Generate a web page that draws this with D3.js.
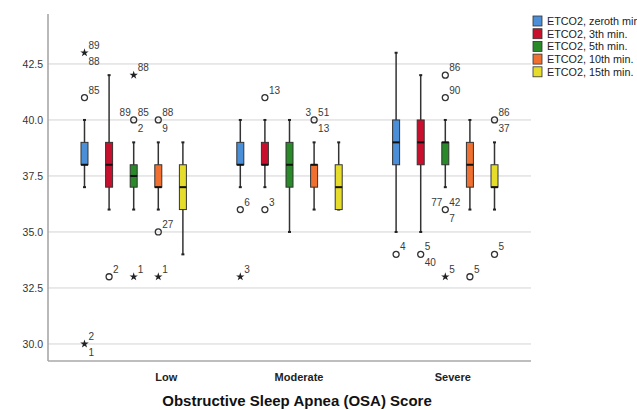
<!DOCTYPE html>
<html>
<head>
<meta charset="utf-8">
<script src="https://cdn.jsdelivr.net/npm/d3@7"></script>
<style>
  body { margin: 0; background: #fff; }
  svg { font-family: "Liberation Sans", Arial, sans-serif; }
</style>
</head>
<body>
<div id="chart"></div>
<script>
// categories on the x axis and the five measurement times
var categories = ['Low', 'Moderate', 'Severe'];
var series = ['ETCO2, zeroth min.', 'ETCO2, 3th min.', 'ETCO2, 5th min.', 'ETCO2, 10th min.', 'ETCO2, 15th min.'];
var colors = ['#4a8fd8', '#c8102e', '#2a8a2a', '#ef7030', '#e6dc2c'];
var yTicks = [30, 32.5, 35, 37.5, 40, 42.5];

// box stats per category, one row per series: [lower whisker, q1, median, q3, upper whisker]
var lowStats = [
  [37, 38, 38, 39, 40],
  [36, 37, 38, 39, 42],
  [36, 37, 37.5, 38, 39],
  [36, 37, 37, 38, 39],
  [34, 36, 37, 38, 39]
];
var moderateStats = [
  [37, 38, 38, 39, 40],
  [37, 38, 38, 39, 40],
  [35, 37, 38, 39, 40],
  [36, 37, 38, 38, 39],
  [36, 36, 37, 38, 39]
];
var severeStats = [
  [35, 38, 39, 40, 43],
  [35, 38, 39, 40, 42],
  [37, 38, 39, 39, 40],
  [36, 37, 38, 39, 40],
  [36, 37, 37, 38, 39]
];

// outliers: [category, series index, value, kind ('o' outlier / '*' extreme), case labels]
var outliers = [
  ['Low', 0, 41, 'o', ['85']],
  ['Low', 0, 43, '*', ['89', '88']],
  ['Low', 0, 30, '*', ['2', '1']],
  ['Low', 1, 33, 'o', ['2']],
  ['Low', 2, 40, 'o', ['89', '85', '2']],
  ['Low', 2, 42, '*', ['88']],
  ['Low', 2, 33, '*', ['1']],
  ['Low', 3, 40, 'o', ['88', '9']],
  ['Low', 3, 35, 'o', ['27']],
  ['Low', 3, 33, '*', ['1']],
  ['Moderate', 0, 36, 'o', ['6']],
  ['Moderate', 0, 33, '*', ['3']],
  ['Moderate', 1, 41, 'o', ['13']],
  ['Moderate', 1, 36, 'o', ['3']],
  ['Moderate', 3, 40, 'o', ['3', '51', '13']],
  ['Severe', 0, 34, 'o', ['4']],
  ['Severe', 1, 34, 'o', ['5', '40']],
  ['Severe', 2, 42, 'o', ['86']],
  ['Severe', 2, 41, 'o', ['90']],
  ['Severe', 2, 36, 'o', ['77', '42', '7']],
  ['Severe', 2, 33, '*', ['5']],
  ['Severe', 3, 33, 'o', ['5']],
  ['Severe', 4, 40, 'o', ['86', '37']],
  ['Severe', 4, 34, 'o', ['5']]
];

var statsByCat = { Low: lowStats, Moderate: moderateStats, Severe: severeStats };

var width = 637, height = 410;
var plot = { left: 48, right: 531, top: 14, bottom: 361 };

var svg = d3.select('#chart').append('svg')
  .attr('width', width)
  .attr('height', height);

var y = d3.scaleLinear()
  .domain([29.24, 44.73])
  .range([plot.bottom, plot.top]);

var x = d3.scalePoint()
  .domain(categories)
  .range([plot.left, plot.right])
  .padding(0.55);

var xOff = d3.scalePoint()
  .domain(d3.range(series.length))
  .range([-49.2, 49.2]);

var boxW = 7, capW = 3;

// gridlines
svg.append('g')
  .selectAll('line')
  .data(yTicks)
  .enter().append('line')
  .attr('x1', plot.left).attr('x2', plot.right)
  .attr('y1', function(d) { return y(d); })
  .attr('y2', function(d) { return y(d); })
  .attr('stroke', '#d4d4d4')
  .attr('stroke-width', 1);

// y axis
var yAxis = svg.append('g')
  .attr('transform', 'translate(' + plot.left + ',0)')
  .call(d3.axisLeft(y).tickValues(yTicks).tickFormat(d3.format('.1f')).tickSize(0).tickPadding(5));
yAxis.select('.domain').remove();
yAxis.selectAll('text').attr('font-size', 10.5).attr('fill', '#333');

svg.append('line')
  .attr('x1', plot.left).attr('x2', plot.left)
  .attr('y1', plot.top).attr('y2', plot.bottom)
  .attr('stroke', '#a8a8a8').attr('stroke-width', 1.6);
svg.append('line')
  .attr('x1', plot.left).attr('x2', plot.right)
  .attr('y1', plot.bottom).attr('y2', plot.bottom)
  .attr('stroke', '#a8a8a8').attr('stroke-width', 1.6);

// x axis labels (SPSS puts them a bit right of the cluster centres)
var labelShift = { Low: 32, Moderate: 9, Severe: 7 };
var xAxis = svg.append('g')
  .attr('transform', 'translate(0,' + plot.bottom + ')')
  .call(d3.axisBottom(x).tickSize(0).tickPadding(12));
xAxis.select('.domain').remove();
xAxis.selectAll('text')
  .attr('font-size', 11)
  .attr('font-weight', 'bold')
  .attr('fill', '#222')
  .attr('dx', function(d) { return labelShift[d]; });

svg.append('text')
  .attr('x', 297).attr('y', 406)
  .attr('text-anchor', 'middle')
  .attr('font-size', 15)
  .attr('font-weight', 'bold')
  .attr('fill', '#111')
  .text('Obstructive Sleep Apnea (OSA) Score');

// boxes
var boxes = [];
categories.forEach(function(c) {
  statsByCat[c].forEach(function(s, i) {
    boxes.push({ cat: c, i: i, s: s, cx: x(c) + xOff(i) });
  });
});

var bg = svg.append('g').selectAll('g.box')
  .data(boxes)
  .enter().append('g')
  .attr('class', 'box');

bg.append('line')
  .attr('x1', function(d) { return d.cx; })
  .attr('x2', function(d) { return d.cx; })
  .attr('y1', function(d) { return y(d.s[0]); })
  .attr('y2', function(d) { return y(d.s[4]); })
  .attr('stroke', '#333').attr('stroke-width', 1.5);

bg.selectAll('line.cap')
  .data(function(d) { return [{ cx: d.cx, v: d.s[0] }, { cx: d.cx, v: d.s[4] }]; })
  .enter().append('line')
  .attr('class', 'cap')
  .attr('x1', function(d) { return d.cx - capW / 2; })
  .attr('x2', function(d) { return d.cx + capW / 2; })
  .attr('y1', function(d) { return y(d.v); })
  .attr('y2', function(d) { return y(d.v); })
  .attr('stroke', '#222').attr('stroke-width', 2);

bg.append('rect')
  .attr('x', function(d) { return d.cx - boxW / 2; })
  .attr('width', boxW)
  .attr('y', function(d) { return y(d.s[3]); })
  .attr('height', function(d) { return y(d.s[1]) - y(d.s[3]); })
  .attr('fill', function(d) { return colors[d.i]; })
  .attr('stroke', '#333').attr('stroke-width', 1);

bg.append('line')
  .attr('x1', function(d) { return d.cx - boxW / 2; })
  .attr('x2', function(d) { return d.cx + boxW / 2; })
  .attr('y1', function(d) { return y(d.s[2]); })
  .attr('y2', function(d) { return y(d.s[2]); })
  .attr('stroke', '#111').attr('stroke-width', 2);

// outliers and case labels
var og = svg.append('g').selectAll('g.out')
  .data(outliers)
  .enter().append('g')
  .attr('class', 'out')
  .attr('transform', function(d) {
    return 'translate(' + (x(d[0]) + xOff(d[1])) + ',' + y(d[2]) + ')';
  });

og.filter(function(d) { return d[3] === 'o'; })
  .append('circle')
  .attr('r', 3)
  .attr('fill', 'none')
  .attr('stroke', '#333')
  .attr('stroke-width', 1.3);

og.filter(function(d) { return d[3] === '*'; })
  .append('path')
  .attr('d', d3.symbol().type(d3.symbolStar).size(22))
  .attr('fill', '#222');

// label placement the way SPSS stacks them around the point
function placements(n) {
  if (n === 1) return ['ur'];
  if (n === 2) return ['ur', 'lr'];
  return ['ul', 'ur', 'lr'];
}

og.selectAll('text')
  .data(function(d) {
    var p = placements(d[4].length);
    return d[4].map(function(t, k) { return { t: t, p: p[k] }; });
  })
  .enter().append('text')
  .attr('font-size', 10)
  .attr('fill', '#3a3a3a')
  .attr('text-anchor', function(d) { return d.p === 'ul' ? 'end' : 'start'; })
  .attr('x', function(d) { return d.p === 'ul' ? -3 : 4; })
  .attr('y', function(d) { return d.p === 'lr' ? 12 : -4; })
  .text(function(d) { return d.t; });

// legend
var lg = svg.append('g').selectAll('g.leg')
  .data(series)
  .enter().append('g')
  .attr('class', 'leg')
  .attr('transform', function(d, i) { return 'translate(533,' + (16 + i * 12.7) + ')'; });

lg.append('rect')
  .attr('width', 9).attr('height', 10)
  .attr('fill', function(d, i) { return colors[i]; })
  .attr('stroke', '#333').attr('stroke-width', 0.8);

lg.append('text')
  .attr('x', 14).attr('y', 9)
  .attr('font-size', 10.8)
  .attr('fill', '#222')
  .text(function(d) { return d; });
</script>
</body>
</html>
